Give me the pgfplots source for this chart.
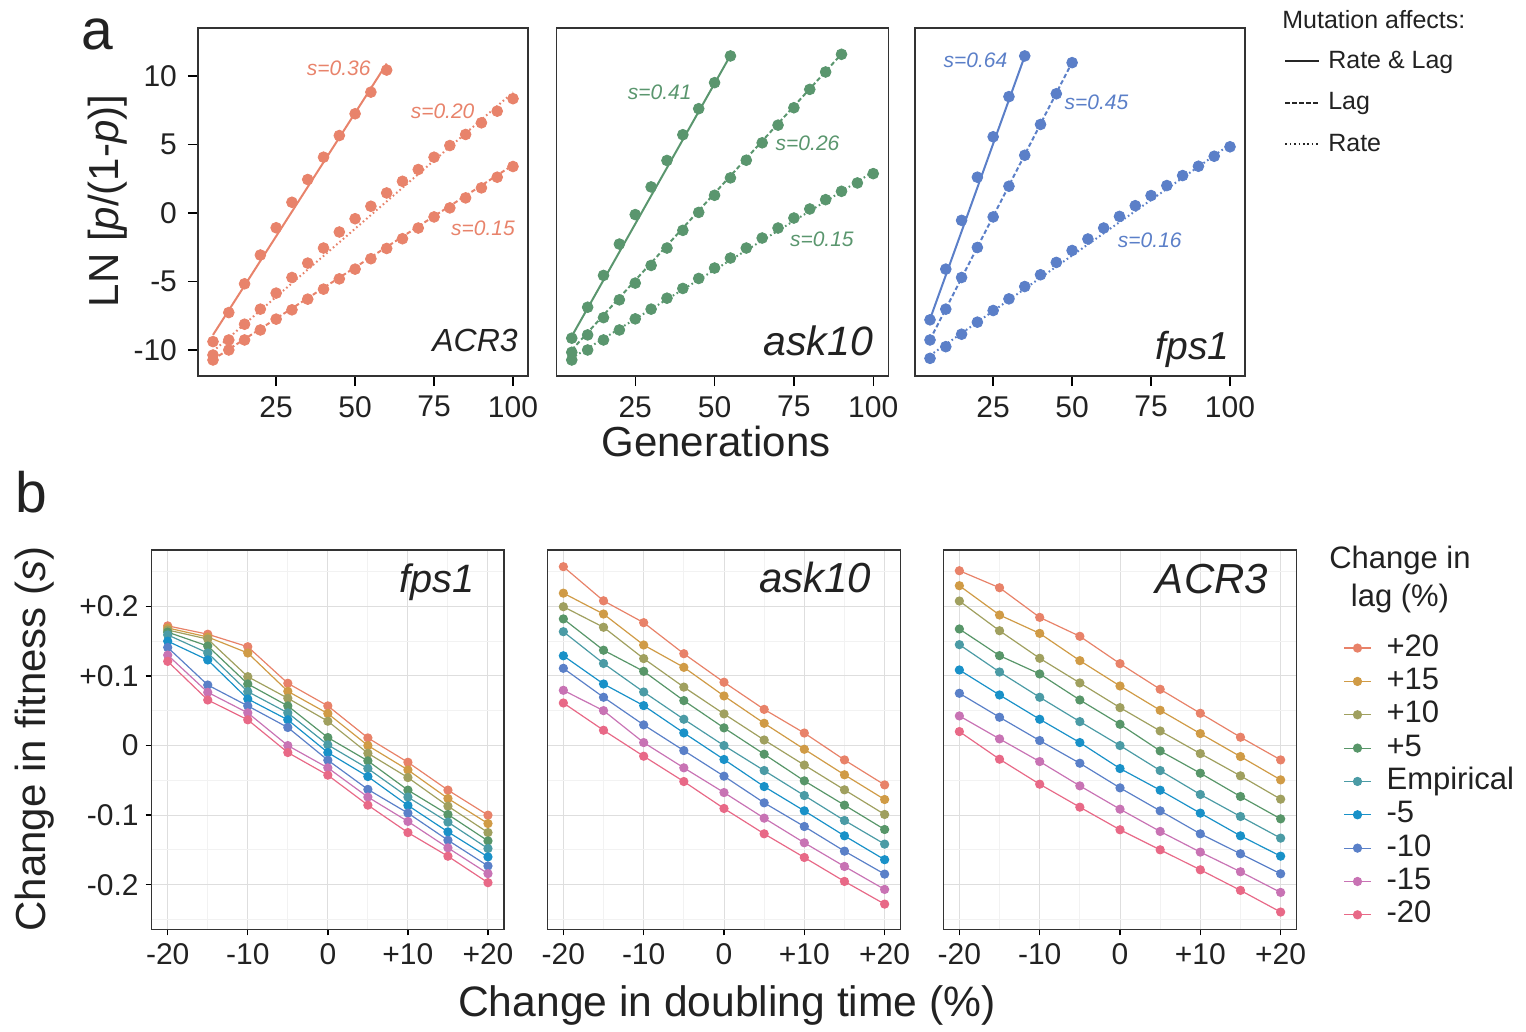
\documentclass[border=0pt]{standalone}
\usepackage{fontspec}
\setmainfont{Liberation Sans}
\usepackage{pgfplots}
\usepackage{pgfplotstable}
\pgfplotsset{compat=1.18}

\definecolor{cAcr}{HTML}{E8836B}
\definecolor{cAsk}{HTML}{5A966E}
\definecolor{cFps}{HTML}{5B7FC8}
\definecolor{l20}{HTML}{E88269}
\definecolor{l15}{HTML}{D09B46}
\definecolor{l10}{HTML}{A0A05F}
\definecolor{l5}{HTML}{589669}
\definecolor{l0}{HTML}{4B9BA5}
\definecolor{m5}{HTML}{1991C8}
\definecolor{m10}{HTML}{5A80C8}
\definecolor{m15}{HTML}{C873B4}
\definecolor{m20}{HTML}{E86987}
\definecolor{txt}{HTML}{222222}

\newcommand{\fs}[1]{\fontsize{#1}{#1}\selectfont}

% panel b: change in fitness vs change in doubling time, one column per lag change
\pgfplotstableread{
x   p20     p15     p10     p5      emp     m5      m10     m15     m20
-20 0.172   0.169   0.166   0.163   0.159   0.150   0.141   0.130   0.121
-15 0.160   0.156   0.153   0.143   0.133   0.123   0.087   0.0765  0.0655
-10 0.142   0.133   0.099   0.0885  0.0775  0.067   0.057   0.047   0.037
-5  0.0895  0.078   0.068   0.057   0.047   0.037   0.026   0.000   -0.010
0   0.057   0.046   0.035   0.0115  0.001   -0.010  -0.021  -0.032  -0.0425
5   0.011   0.000   -0.011  -0.022  -0.033  -0.0445 -0.063  -0.074  -0.0856
10  -0.024  -0.035  -0.046  -0.064  -0.074  -0.086  -0.097  -0.109  -0.125
15  -0.064  -0.076  -0.087  -0.099  -0.110  -0.124  -0.136  -0.147  -0.159
20  -0.100  -0.112  -0.125  -0.137  -0.148  -0.160  -0.173  -0.184  -0.197
}\fpsB
\pgfplotstableread{
x   p20     p15     p10     p5      emp     m5      m10     m15     m20
-20 0.257   0.219   0.1995  0.182   0.1636  0.129   0.111   0.0794  0.0612
-15 0.208   0.189   0.170   0.137   0.118   0.0885  0.0694  0.0502  0.022
-10 0.1766  0.1445  0.125   0.1067  0.077   0.0574  0.0297  0.0043  -0.0153
-5  0.132   0.1124  0.084   0.0646  0.0378  0.0182  -0.0072 -0.032  -0.0517
0   0.091   0.0713  0.0455  0.0254  0.000   -0.020  -0.044  -0.0675 -0.0904
5   0.052   0.032   0.008   -0.0124 -0.0359 -0.0589 -0.0823 -0.1043 -0.1268
10  0.018   -0.0053 -0.028  -0.0507 -0.0718 -0.0938 -0.1163 -0.1397 -0.1608
15  -0.0206 -0.042  -0.0636 -0.0856 -0.1077 -0.1297 -0.1517 -0.1737 -0.1952
20  -0.0565 -0.0775 -0.099  -0.1206 -0.1416 -0.164  -0.1847 -0.2067 -0.2278
}\askB
\pgfplotstableread{
x   p20     p15     p10     p5      emp     m5      m10     m15     m20
-20 0.2512  0.2297  0.2077  0.1675  0.145   0.1086  0.0751  0.0426  0.0201
-15 0.2268  0.1876  0.165   0.1292  0.1057  0.0727  0.0407  0.0096  -0.0196
-10 0.1842  0.1612  0.1254  0.1029  0.0694  0.0378  0.0072  -0.023  -0.0555
-5  0.157   0.122   0.090   0.0655  0.0344  0.0043  -0.0254 -0.0579 -0.0885
0   0.1177  0.0856  0.0545  0.0306  0.000   -0.033  -0.0608 -0.0914 -0.121
5   0.0809  0.0507  0.021   -0.0077 -0.0359 -0.0641 -0.0938 -0.1234 -0.1498
10  0.0464  0.0172  -0.0115 -0.0397 -0.0703 -0.0971 -0.1268 -0.1531 -0.1785
15  0.012   -0.0158 -0.0435 -0.0732 -0.1019 -0.1297 -0.1555 -0.1813 -0.2081
20  -0.0206 -0.0493 -0.077  -0.1053 -0.133  -0.1589 -0.1842 -0.211  -0.2392
}\acrB

\tikzset{facet/.style={anchor=base east, inner sep=0pt, text=txt}}

\pgfplotsset{
  base/.style={
    scale only axis,
    axis line style={draw=black!80, line width=0.7pt},
    tick align=outside, major tick length=3pt,
    tick style={black, line width=0.7pt},
    xtick pos=bottom, ytick pos=left,
    ticklabel style={font=\fs{15}, text=txt},
  },
  pa/.style={base, width=165pt, height=174pt,
    xmin=0.25, xmax=104.75, ymin=-11.9, ymax=13.5,
    major tick length=5pt,
    xticklabel style={yshift=-1.5pt},
    yticklabel style={xshift=-2pt},
    xtick={25,50,75,100}, xticklabels={25,50,75,100},
    ytick={-10,-5,0,5,10}},
  pb/.style={base, width=176.7pt, height=189.65pt,
    xmin=-22, xmax=22, ymin=-0.264, ymax=0.281,
    xticklabel style={yshift=-0.5pt},
    xtick={-20,-10,0,10,20}, xticklabels={-20,-10,0,+10,+20},
    ytick={-0.2,-0.1,0,0.1,0.2},
    minor xtick={-15,-5,5,15},
    minor ytick={-0.25,-0.15,-0.05,0.05,0.15,0.25},
    minor tick length=0pt,
    grid=both,
    major grid style={draw=black!13, line width=0.5pt},
    minor grid style={draw=black!5, line width=0.5pt}},
  pts/.style={only marks, mark=*, mark size=2.7pt, color=#1, forget plot},
  fit/.style={color=#1, line width=1pt, no marks, forget plot},
  ser/.style={color=#1, mark=*, mark size=2pt, line width=0.6pt},
  lagdash/.style={dash pattern=on 2.2pt off 1.3pt},
  ratedot/.style={dash pattern=on 0.8pt off 1.4pt},
}

\begin{document}
\begin{tikzpicture}
\path[use as bounding box] (0pt,0pt) rectangle (763pt,-516pt);

% ---------------- panel a ----------------
\begin{axis}[pa, at={(99pt,-14pt)}, anchor=north west, yticklabels={-10,-5,0,5,10}]
\addplot[pts=cAcr] coordinates {(5,-9.39)(10,-7.27)(15,-5.17)(20,-3.07)(25,-1.08)(30,0.78)(35,2.44)(40,4.07)(45,5.65)(50,7.24)(55,8.82)(60,10.43)};
\addplot[fit=cAcr] coordinates {(5,-8.9)(60,10.9)};
\addplot[pts=cAcr] coordinates {(5,-10.37)(10,-9.27)(15,-8.12)(20,-7.02)(25,-5.85)(30,-4.71)(35,-3.66)(40,-2.56)(45,-1.39)(50,-0.42)(55,0.49)(60,1.46)(65,2.31)(70,3.17)(75,4.07)(80,4.92)(85,5.73)(90,6.58)(95,7.43)(100,8.34)};
\addplot[fit=cAcr, ratedot] coordinates {(5,-10.1)(100,8.8)};
\addplot[pts=cAcr] coordinates {(5,-10.73)(10,-10.0)(15,-9.27)(20,-8.54)(25,-7.75)(30,-7.07)(35,-6.29)(40,-5.56)(45,-4.81)(50,-4.10)(55,-3.34)(60,-2.59)(65,-1.88)(70,-1.10)(75,-0.29)(80,0.37)(85,1.10)(90,1.83)(95,2.61)(100,3.39)};
\addplot[fit=cAcr, lagdash] coordinates {(5,-10.7)(100,3.5)};
\node[font=\fs{10.5}\itshape, text=cAcr] at (axis cs:44.8,10.53) {s=0.36};
\node[font=\fs{10.5}\itshape, text=cAcr] at (axis cs:77.7,7.43) {s=0.20};
\node[font=\fs{10.5}\itshape, text=cAcr] at (axis cs:90.5,-1.10) {s=0.15};
\node[facet, font=\fs{16}\itshape] at (rel axis cs:0.97,0.069) {ACR3};
\end{axis}

\begin{axis}[pa, at={(278.35pt,-14pt)}, anchor=north west, width=165.8pt, ytick=\empty]
\addplot[pts=cAsk] coordinates {(5,-9.14)(10,-6.88)(15,-4.56)(20,-2.27)(25,-0.12)(30,1.90)(35,3.83)(40,5.71)(45,7.61)(50,9.51)(55,11.46)};
\addplot[fit=cAsk] coordinates {(5,-9.0)(55,11.5)};
\addplot[pts=cAsk] coordinates {(5,-10.17)(10,-8.90)(15,-7.64)(20,-6.34)(25,-5.12)(30,-3.83)(35,-2.56)(40,-1.27)(45,0.04)(50,1.29)(55,2.56)(60,3.85)(65,5.12)(70,6.41)(75,7.68)(80,9.02)(85,10.29)(90,11.58)};
\addplot[fit=cAsk, lagdash] coordinates {(5,-10.0)(90,11.6)};
\addplot[pts=cAsk] coordinates {(5,-10.73)(10,-10.0)(15,-9.27)(20,-8.54)(25,-7.73)(30,-7.02)(35,-6.22)(40,-5.51)(45,-4.78)(50,-4.02)(55,-3.29)(60,-2.56)(65,-1.83)(70,-1.10)(75,-0.37)(80,0.29)(85,0.97)(90,1.58)(95,2.19)(100,2.87)};
\addplot[fit=cAsk, ratedot] coordinates {(5,-10.6)(100,3.0)};
\node[font=\fs{10.5}\itshape, text=cAsk] at (axis cs:32.7,8.78) {s=0.41};
\node[font=\fs{10.5}\itshape, text=cAsk] at (axis cs:79.3,5.12) {s=0.26};
\node[font=\fs{10.5}\itshape, text=cAsk] at (axis cs:83.8,-1.95) {s=0.15};
\node[facet, font=\fs{20.5}\itshape] at (rel axis cs:0.955,0.0575) {ask10};
\end{axis}

\begin{axis}[pa, at={(457.5pt,-14pt)}, anchor=north west, ytick=\empty,
  legend style={at={(1.118,0.9425)}, anchor=north west, draw=none, fill=none,
    inner sep=0pt, row sep=7.75pt, font=\fs{12.5},
    nodes={inner xsep=4pt, inner ysep=0pt, text height=10pt, text depth=3pt, text=txt}},
  legend cell align=left,
  legend image code/.code={\draw[#1] (0pt,0pt) -- (17pt,0pt);}]
\addplot[pts=cFps] coordinates {(5,-7.80)(10,-4.10)(15,-0.54)(20,2.61)(25,5.56)(30,8.49)(35,11.46)};
\addplot[fit=cFps] coordinates {(5,-7.75)(35,11.45)};
\addplot[pts=cFps] coordinates {(5,-9.27)(10,-7.02)(15,-4.71)(20,-2.52)(25,-0.29)(30,1.95)(35,4.21)(40,6.46)(45,8.70)(50,10.97)};
\addplot[fit=cFps, lagdash] coordinates {(5,-9.25)(50,11.0)};
\addplot[pts=cFps] coordinates {(5,-10.61)(10,-9.76)(15,-8.85)(20,-7.97)(25,-7.12)(30,-6.27)(35,-5.37)(40,-4.51)(45,-3.61)(50,-2.74)(55,-1.90)(60,-1.10)(65,-0.25)(70,0.53)(75,1.27)(80,2.00)(85,2.73)(90,3.41)(95,4.14)(100,4.83)};
\addplot[fit=cFps, ratedot] coordinates {(5,-10.4)(100,5.0)};
\node[font=\fs{10.5}\itshape, text=cFps] at (axis cs:19.4,11.16) {s=0.64};
\node[font=\fs{10.5}\itshape, text=cFps] at (axis cs:57.7,8.09) {s=0.45};
\node[font=\fs{10.5}\itshape, text=cFps] at (axis cs:74.6,-2.0) {s=0.16};
\node[facet, font=\fs{19.5}\itshape] at (rel axis cs:0.9545,0.048) {fps1};
\addlegendimage{black!85, line width=1pt}
\addlegendentry{Rate \& Lag}
\addlegendimage{black!85, line width=1pt, lagdash}
\addlegendentry{Lag}
\addlegendimage{black!85, line width=1pt, ratedot}
\addlegendentry{Rate}
\end{axis}

% ---------------- panel b ----------------
\begin{axis}[pb, at={(75.85pt,-275pt)}, anchor=north west, width=176.15pt,
  yticklabels={-0.2,-0.1,0,+0.1,+0.2}]
\addplot[ser=l20] table[y=p20]{\fpsB};
\addplot[ser=l15] table[y=p15]{\fpsB};
\addplot[ser=l10] table[y=p10]{\fpsB};
\addplot[ser=l5]  table[y=p5]{\fpsB};
\addplot[ser=l0]  table[y=emp]{\fpsB};
\addplot[ser=m5]  table[y=m5]{\fpsB};
\addplot[ser=m10] table[y=m10]{\fpsB};
\addplot[ser=m15] table[y=m15]{\fpsB};
\addplot[ser=m20] table[y=m20]{\fpsB};
\node[facet, font=\fs{19.8}\itshape] at (rel axis cs:0.918,0.8874) {fps1};
\end{axis}

\begin{axis}[pb, at={(273.65pt,-275pt)}, anchor=north west,
  yticklabels={}, ytick style={draw=none}]
\addplot[ser=l20] table[y=p20]{\askB};
\addplot[ser=l15] table[y=p15]{\askB};
\addplot[ser=l10] table[y=p10]{\askB};
\addplot[ser=l5]  table[y=p5]{\askB};
\addplot[ser=l0]  table[y=emp]{\askB};
\addplot[ser=m5]  table[y=m5]{\askB};
\addplot[ser=m10] table[y=m10]{\askB};
\addplot[ser=m15] table[y=m15]{\askB};
\addplot[ser=m20] table[y=m20]{\askB};
\node[facet, font=\fs{21}\itshape] at (rel axis cs:0.918,0.8874) {ask10};
\end{axis}

\begin{axis}[pb, at={(471.65pt,-275pt)}, anchor=north west,
  yticklabels={}, ytick style={draw=none},
  legend style={at={(1.131,0.782)}, anchor=north west, draw=none, fill=none,
    inner sep=0pt, row sep=1.67pt, font=\fs{15.5},
    nodes={inner xsep=7.5pt, inner ysep=0pt, text height=11.5pt, text depth=3.5pt, text=txt}},
  legend cell align=left,
  legend image code/.code={\draw[mark repeat=2, mark phase=2, #1] plot coordinates {(0pt,0pt)(6.75pt,0pt)(13.5pt,0pt)};}]
\addplot[ser=l20] table[y=p20]{\acrB}; \addlegendentry{+20}
\addplot[ser=l15] table[y=p15]{\acrB}; \addlegendentry{+15}
\addplot[ser=l10] table[y=p10]{\acrB}; \addlegendentry{+10}
\addplot[ser=l5]  table[y=p5]{\acrB};  \addlegendentry{+5}
\addplot[ser=l0]  table[y=emp]{\acrB}; \addlegendentry{Empirical}
\addplot[ser=m5]  table[y=m5]{\acrB};  \addlegendentry{-5}
\addplot[ser=m10] table[y=m10]{\acrB}; \addlegendentry{-10}
\addplot[ser=m15] table[y=m15]{\acrB}; \addlegendentry{-15}
\addplot[ser=m20] table[y=m20]{\acrB}; \addlegendentry{-20}
\node[facet, font=\fs{21}\itshape] at (rel axis cs:0.92,0.886) {ACR3};
\end{axis}

% ---------------- labels ----------------
\node[anchor=base, font=\fs{28.5}, text=txt] at (48.5pt,-25pt) {a};
\node[anchor=base, font=\fs{28.5}, text=txt] at (15.5pt,-256pt) {b};
\node[font=\fs{21}, text=txt] at (358pt,-220.5pt) {Generations};
\node[anchor=base, font=\fs{21.3}, text=txt] at (363.5pt,-508pt) {Change in doubling time (\%)};
\node[rotate=90, font=\fs{21}, text=txt] at (54pt,-100.5pt) {LN [\textit{p}/(1-\textit{p})]};
\node[rotate=90, font=\fs{21}, text=txt] at (17.5pt,-369.5pt) {Change in fitness (\textit{s})};
\node[anchor=base west, inner sep=0pt, font=\fs{12.5}, text=txt] at (641pt,-14.15pt) {Mutation affects:};
\node[align=center, font=\fontsize{15.5}{19}\selectfont, text=txt] at (700pt,-289.5pt) {Change in\\lag (\%)};
\end{tikzpicture}
\end{document}
